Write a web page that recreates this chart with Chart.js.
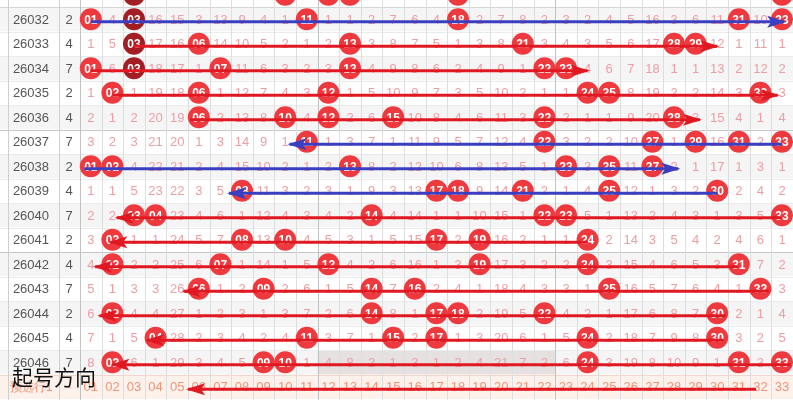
<!DOCTYPE html>
<html>
<head>
<meta charset="utf-8">
<script src="https://cdn.jsdelivr.net/npm/chart.js@4.4.1/dist/chart.umd.min.js"></script>
<style>
  html, body { margin: 0; padding: 0; background: #fff; }
  #wrap { width: 793px; height: 400px; position: relative; }
</style>
</head>
<body>
<div id="wrap"><canvas id="trendChart"></canvas></div>
<script>
const issues = ['26032', '26033', '26034', '26035', '26036', '26037', '26038', '26039',
                '26040', '26041', '26042', '26043', '26044', '26045', '26046'];
const tailCol = [2, 4, 7, 2, 4, 7, 2, 4, 7, 2, 4, 7, 2, 4, 7];
const colLabels = ['01', '02', '03', '04', '05', '06', '07', '08', '09', '10', '11',
                   '12', '13', '14', '15', '16', '17', '18', '19', '20', '21', '22',
                   '23', '24', '25', '26', '27', '28', '29', '30', '31', '32', '33'];
// omission per number, 0 = drawn that issue
const omitRows = [
  [0,4,0,16,15,3,13,9,4,1,0,1,1,2,7,6,4,0,2,7,8,2,3,2,4,5,16,3,6,11,0,10,0],
  [1,5,0,17,16,0,14,10,5,2,1,2,0,3,8,7,5,1,3,8,0,3,4,3,5,6,17,0,0,12,1,11,1],
  [0,6,0,18,17,1,0,11,6,3,2,3,0,4,9,8,6,2,4,9,1,0,0,4,6,7,18,1,1,13,2,12,2],
  [1,0,1,19,18,0,1,12,7,4,3,0,1,5,10,9,7,3,5,10,2,1,1,0,0,8,19,2,2,14,3,0,3],
  [2,1,2,20,19,0,2,13,8,0,4,0,2,6,0,10,8,4,6,11,3,0,2,1,1,9,20,0,3,15,4,1,4],
  [3,2,3,21,20,1,3,14,9,1,0,1,3,7,1,11,9,5,7,12,4,0,3,2,2,10,0,1,0,16,0,2,0],
  [0,0,4,22,21,2,4,15,10,2,1,2,0,8,2,12,10,6,8,13,5,1,0,3,0,11,0,2,1,17,1,3,1],
  [1,1,5,23,22,3,5,0,11,3,2,3,1,9,3,13,0,0,9,14,0,2,1,4,0,12,1,3,2,0,2,4,2],
  [2,2,0,0,23,4,6,1,12,4,3,4,2,0,4,14,1,1,10,15,1,0,0,5,1,13,2,4,3,1,3,5,0],
  [3,0,1,1,24,5,7,0,13,0,4,5,3,1,5,15,0,2,0,16,2,1,1,0,2,14,3,5,4,2,4,6,1],
  [4,0,2,2,25,6,0,1,14,1,5,0,4,2,6,16,1,3,0,17,3,2,2,0,3,15,4,6,5,3,0,7,2],
  [5,1,3,3,26,0,1,2,0,2,6,1,5,0,7,0,2,4,1,18,4,3,3,1,0,16,5,7,6,4,1,0,3],
  [6,0,4,4,27,1,2,3,1,3,7,2,6,0,8,1,0,0,2,19,5,0,4,2,1,17,6,8,7,0,2,1,4],
  [7,1,5,0,28,2,3,4,2,4,0,3,7,1,0,2,0,1,3,20,6,1,5,0,2,18,7,9,8,0,3,2,5],
  [8,0,6,1,29,3,4,5,0,0,1,4,8,2,1,3,1,2,4,21,7,2,6,0,3,19,8,10,9,1,0,3,0]
];
const prevIssueHits = [3, 10, 12, 13, 18, 33];      // 26031, cut off at the top
const repeatHits = [[-1, 3], [0, 3], [1, 3], [2, 3]]; // [row, number] drawn dark
const presetLabel = '预选行1';
const noteText = '起号方向';

// hand-drawn direction arrows: row (15 = preset row), start number, tip number
const arrowRow  = [0, 1, 2, 3, 4, 5, 6, 7, 8, 9, 10, 11, 12, 13, 14, 15];
const arrowFrom = [1, 3, 1, 2, 5.6, 33, 0.7, 30, 33, 24, 31, 32.4, 30.4, 30.3, 33.4, 31.8];
const arrowTo   = [33.1, 30, 24, 32.8, 29.2, 10.2, 28.2, 7.4, 2.2, 1.9, 1.2, 5.3, 1.4, 3.6, 2, 5.5];
const arrowKind = ['blue', 'red', 'red', 'red', 'red', 'blue', 'blue', 'blue',
                   'red', 'red', 'red', 'red', 'red', 'red', 'red', 'red'];

// ---- styles ----
const RED = '#ee3a3e';
const DARK = '#a21e22';
const LINE = { red: '#e01822', blue: '#3a3fc2' };
const OMIT = '#eb9ea4';
const SALMON = '#ef9478';
const FONT = '"Liberation Sans", Arial, sans-serif';
const ISSUE_X = -1.77, TAIL_X = 0;

const hitPoints = [];
prevIssueHits.forEach(c => hitPoints.push({ x: c, y: -1, n: c }));
omitRows.forEach((row, r) => row.forEach((v, i) => {
  if (v === 0) hitPoints.push({ x: i + 1, y: r, n: i + 1 });
}));
const ballColors = hitPoints.map(p =>
  repeatHits.some(h => h[0] === p.y && h[1] === p.n) ? DARK : RED);

const arrowSets = arrowRow.map((r, i) => ({
  data: [{ x: arrowFrom[i], y: r + 0.1 }, { x: arrowTo[i], y: r + 0.1 }],
  showLine: true,
  borderColor: LINE[arrowKind[i]],
  backgroundColor: LINE[arrowKind[i]],
  borderWidth: 3,
  pointRadius: 0,
  pointHoverRadius: 0,
  order: 1,
  isArrow: true
}));

const tablePlugin = {
  id: 'tablePlugin',
  beforeDatasetsDraw(chart) {
    const ctx = chart.ctx, xs = chart.scales.x, ys = chart.scales.y;
    const px = v => xs.getPixelForValue(v), py = v => ys.getPixelForValue(v);
    const W = chart.width;
    ctx.save();
    // row backgrounds
    for (let r = -1; r <= 14; r++) {
      ctx.fillStyle = r % 2 === 0 ? '#f5f5f5' : '#ffffff';
      ctx.fillRect(0, py(r - 0.5), W, py(r + 0.5) - py(r - 0.5));
    }
    ctx.fillStyle = '#e5e1e1';
    ctx.fillRect(px(11.5), py(13.5), px(22.5) - px(11.5), py(14.5) - py(13.5));
    ctx.fillStyle = '#fdf1ec';
    ctx.fillRect(0, py(14.5), W, py(15.5) - py(14.5));

    // horizontal lines
    for (let r = -1; r <= 14; r++) {
      const y = Math.round(py(r + 0.5)) + 0.5;
      ctx.strokeStyle = (r === 4 || r === 9) ? '#c6c6c6' : (r === -1 ? '#d6d6d6' : (r === 14 ? '#f0d6cc' : '#ebebeb'));
      ctx.lineWidth = 1;
      ctx.beginPath(); ctx.moveTo(0, y); ctx.lineTo(W, y); ctx.stroke();
    }
    // vertical lines
    const vlines = [-2.833, -0.472];
    for (let c = 0; c <= 32; c++) vlines.push(c + 0.5);
    vlines.forEach(v => {
      const x = Math.round(px(v)) + 0.5;
      ctx.strokeStyle = (v === 0.5 || v === 11.5 || v === 22.5) ? '#c2c2c2' : (v < 0 ? '#cfcfcf' : '#dedede');
      ctx.beginPath(); ctx.moveTo(x, 0); ctx.lineTo(x, chart.height); ctx.stroke();
    });

    // texts
    ctx.textAlign = 'center';
    ctx.textBaseline = 'middle';
    issues.forEach((s, r) => {
      ctx.fillStyle = '#555';
      ctx.font = '13px ' + FONT;
      ctx.fillText(s, px(ISSUE_X), py(r) + 1);
      ctx.fillText(String(tailCol[r]), px(TAIL_X), py(r) + 1);
    });
    ctx.fillStyle = OMIT;
    ctx.font = '13px ' + FONT;
    omitRows.forEach((row, r) => row.forEach((v, i) => {
      if (v !== 0) ctx.fillText(String(v), px(i + 1), py(r) + 1);
    }));
    ctx.fillStyle = SALMON;
    ctx.font = '12px ' + FONT;
    ctx.fillText(presetLabel, px(ISSUE_X), py(15) + 1);
    ctx.font = '13px ' + FONT;
    ctx.fillText('-', px(TAIL_X), py(15) + 1);
    colLabels.forEach((s, i) => ctx.fillText(s, px(i + 1), py(15) + 1));
    ctx.restore();
  },
  afterDatasetDraw(chart, args) {
    if (args.index !== 0) return;
    const ctx = chart.ctx;
    ctx.save();
    ctx.fillStyle = '#fff';
    ctx.font = 'bold 12px ' + FONT;
    ctx.textAlign = 'center';
    ctx.textBaseline = 'middle';
    args.meta.data.forEach((el, i) => {
      ctx.fillText(colLabels[hitPoints[i].n - 1], el.x, el.y + 1);
    });
    ctx.restore();
  },
  afterDatasetsDraw(chart) {
    const ctx = chart.ctx;
    ctx.save();
    chart.data.datasets.forEach((ds, i) => {
      if (!ds.isArrow) return;
      const pts = chart.getDatasetMeta(i).data;
      const a = pts[0], b = pts[pts.length - 1];
      const ang = Math.atan2(b.y - a.y, b.x - a.x);
      const len = 17, half = 6;
      ctx.fillStyle = ds.borderColor;
      ctx.beginPath();
      ctx.moveTo(b.x + Math.cos(ang) * 2, b.y + Math.sin(ang) * 2);
      ctx.lineTo(b.x - Math.cos(ang) * len - Math.sin(ang) * half, b.y - Math.sin(ang) * len + Math.cos(ang) * half);
      ctx.lineTo(b.x - Math.cos(ang) * (len - 4), b.y - Math.sin(ang) * (len - 4));
      ctx.lineTo(b.x - Math.cos(ang) * len + Math.sin(ang) * half, b.y - Math.sin(ang) * len - Math.cos(ang) * half);
      ctx.closePath();
      ctx.fill();
    });
    // overlay note
    const xs = chart.scales.x, ys = chart.scales.y;
    ctx.fillStyle = '#111';
    ctx.font = '21px "Noto Sans CJK SC", sans-serif';
    ctx.textAlign = 'left';
    ctx.textBaseline = 'middle';
    ctx.fillText(noteText, xs.getPixelForValue(-2.65), ys.getPixelForValue(14.6));
    ctx.restore();
  }
};

new Chart(document.getElementById('trendChart').getContext('2d'), {
  type: 'scatter',
  data: {
    datasets: [{
      label: 'hits',
      data: hitPoints,
      pointRadius: 11,
      pointHoverRadius: 11,
      pointBackgroundColor: ballColors,
      pointBorderWidth: 0,
      order: 10
    }, ...arrowSets]
  },
  options: {
    responsive: true,
    maintainAspectRatio: false,
    devicePixelRatio: 1,
    animation: false,
    events: [],
    layout: { padding: 0, autoPadding: false },
    scales: {
      x: { type: 'linear', min: -3.2037, max: 33.509, display: false },
      y: { type: 'linear', min: -0.7857, max: 15.54, reverse: true, display: false }
    },
    plugins: {
      legend: { display: false },
      tooltip: { enabled: false }
    }
  },
  plugins: [tablePlugin]
});
</script>
</body>
</html>
